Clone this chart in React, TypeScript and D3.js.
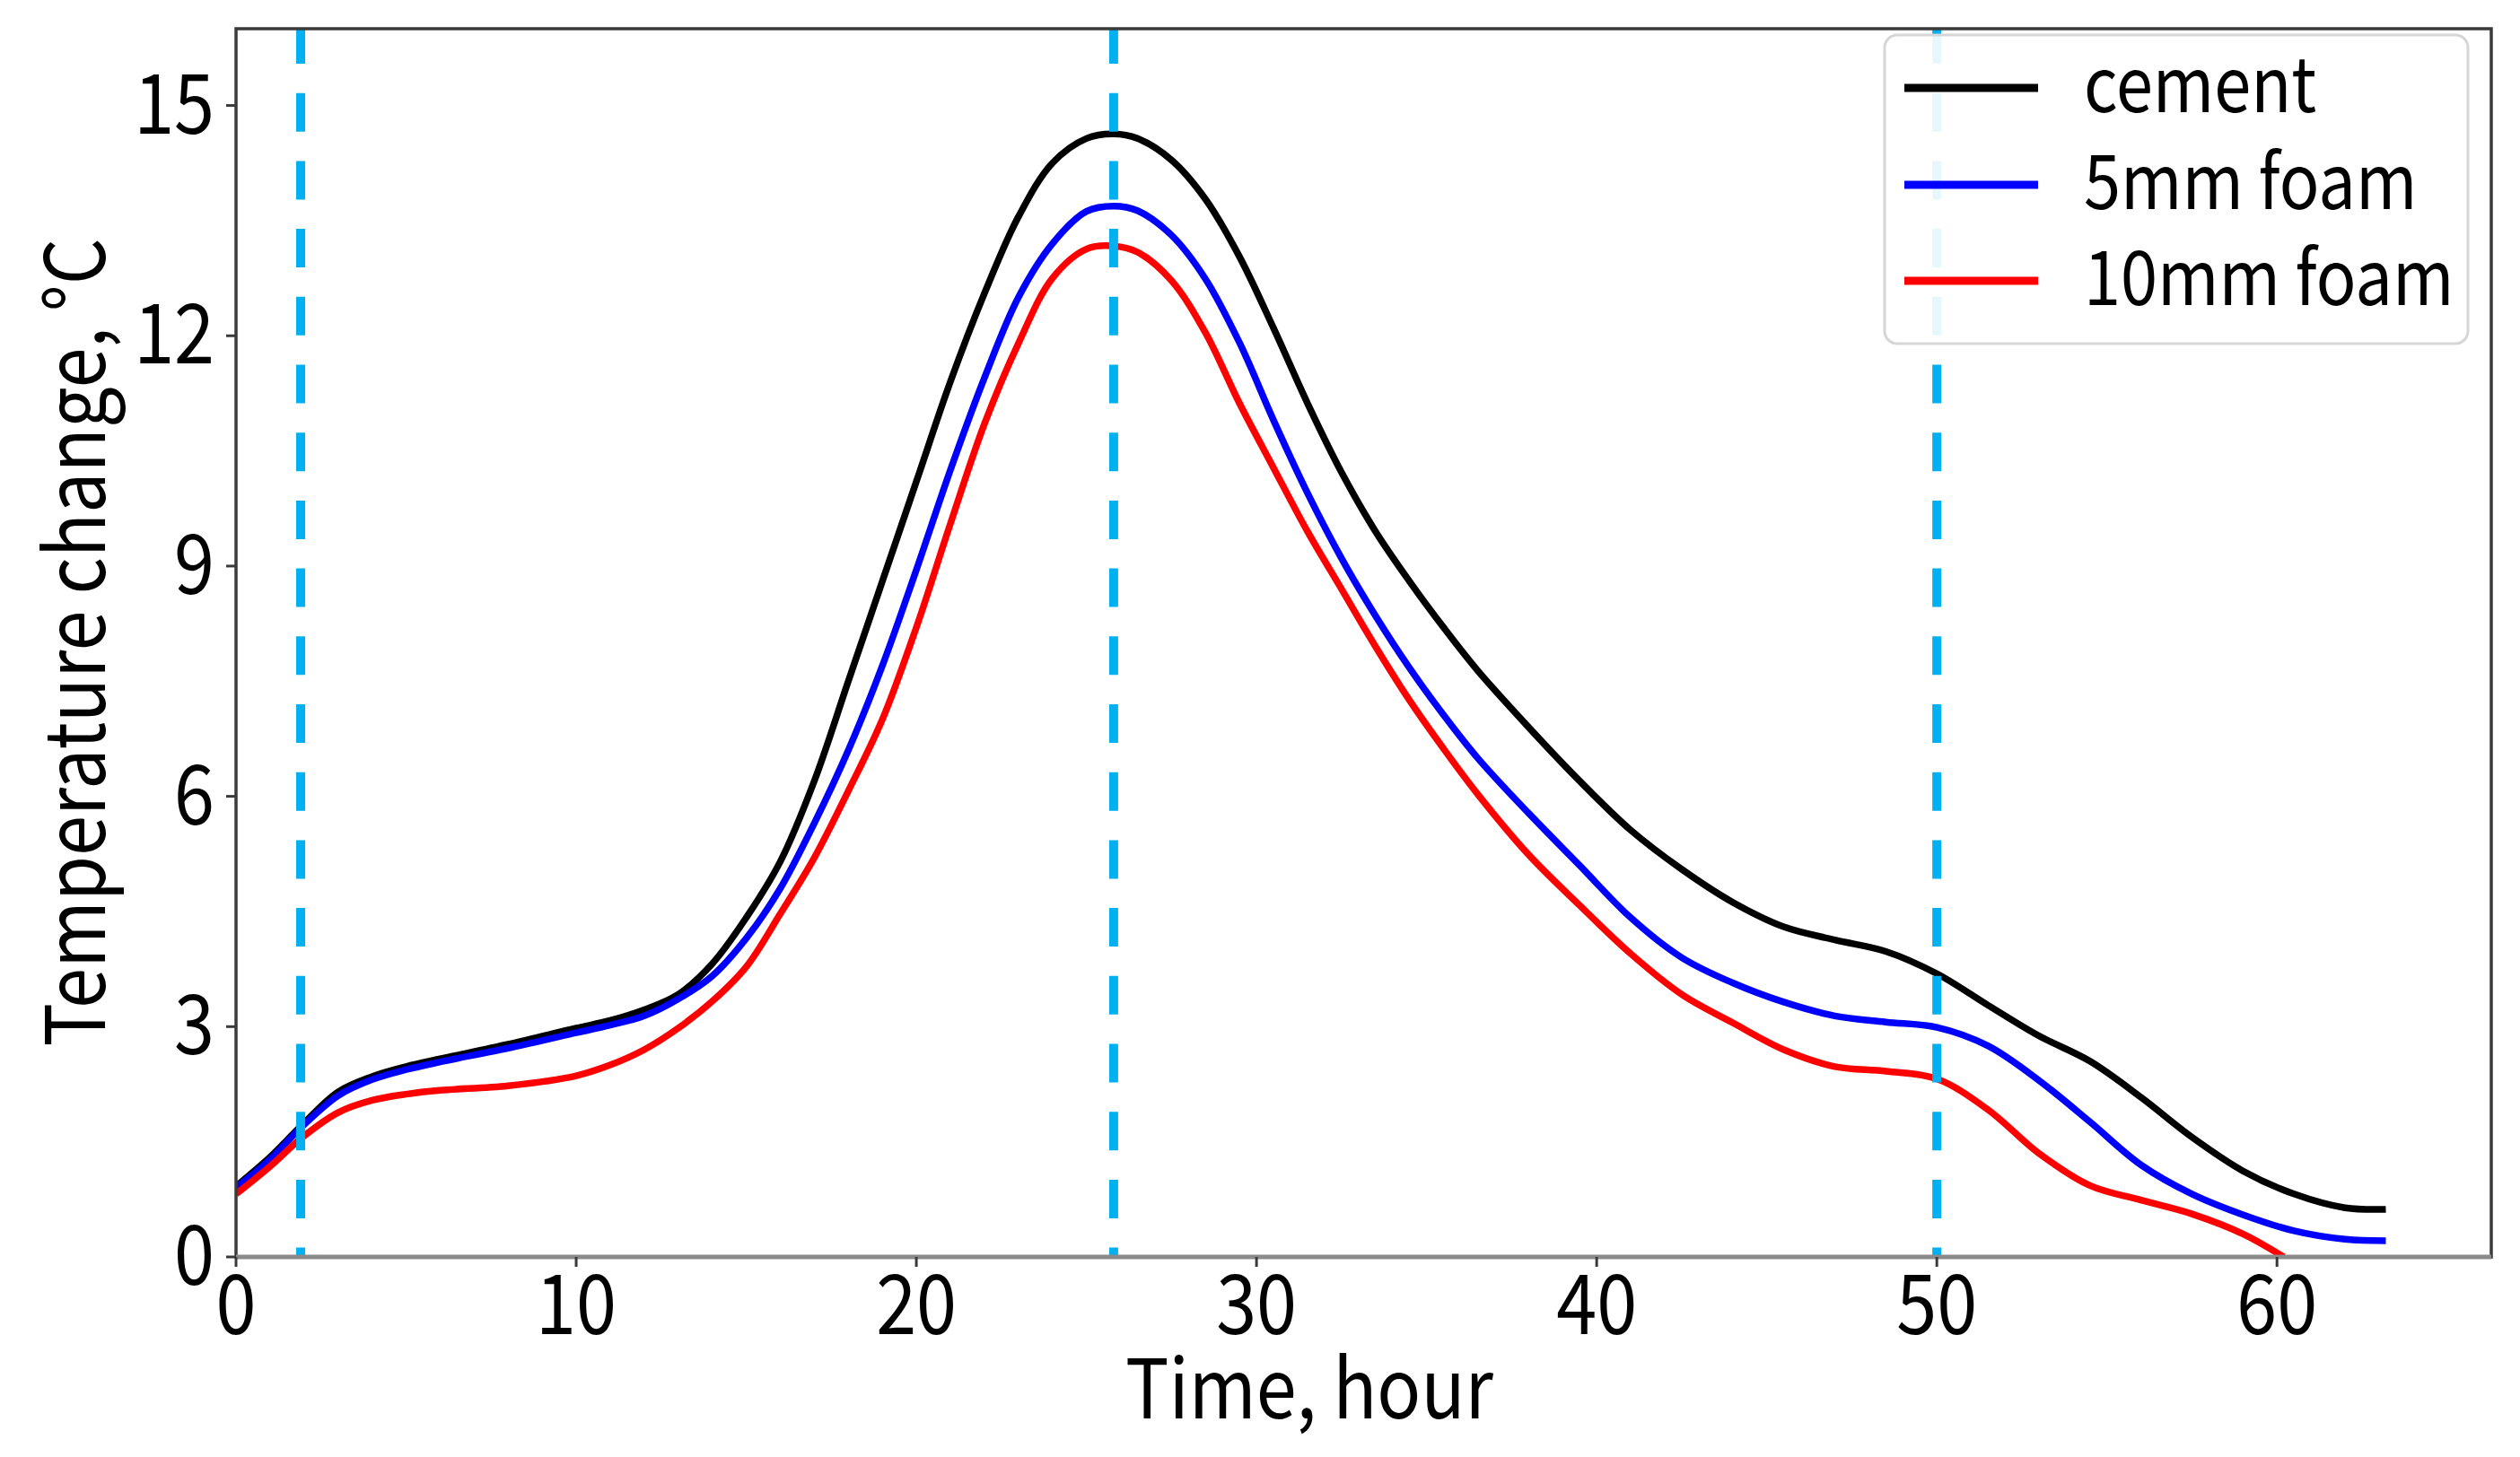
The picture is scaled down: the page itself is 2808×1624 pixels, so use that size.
import React from "react";
import * as d3 from "d3";

// Time in hours
const hours = [0, 1, 1.9, 3, 4, 5, 6, 8, 10, 11, 12, 13, 14, 15, 16, 17, 18, 19, 20, 21, 22, 23, 24, 25, 25.8, 26.5, 27.5, 28.5, 29.5, 30.5, 31.5, 32.5, 33.5, 34.5, 35.5, 36.5, 38, 39.5, 41, 42.5, 44, 45.5, 47, 48.5, 50, 51.5, 53, 54.5, 56, 57.5, 59, 60.5, 62, 63.2];

const cement = [0.92, 1.3, 1.7, 2.15, 2.35, 2.48, 2.58, 2.77, 2.98, 3.08, 3.22, 3.42, 3.82, 4.42, 5.15, 6.2, 7.5, 8.8, 10.1, 11.4, 12.55, 13.55, 14.25, 14.57, 14.63, 14.57, 14.29, 13.78, 13.03, 12.1, 11.12, 10.22, 9.45, 8.8, 8.2, 7.64, 6.9, 6.2, 5.56, 5.05, 4.62, 4.3, 4.13, 3.98, 3.69, 3.28, 2.88, 2.55, 2.08, 1.56, 1.12, 0.82, 0.64, 0.62];

const foam5 = [0.9, 1.27, 1.68, 2.1, 2.31, 2.44, 2.54, 2.72, 2.92, 3.02, 3.14, 3.36, 3.66, 4.15, 4.8, 5.65, 6.6, 7.7, 8.95, 10.25, 11.45, 12.5, 13.2, 13.62, 13.69, 13.63, 13.31, 12.74, 11.91, 10.9, 9.95, 9.1, 8.35, 7.67, 7.06, 6.5, 5.78, 5.1, 4.42, 3.9, 3.57, 3.32, 3.14, 3.06, 2.99, 2.75, 2.3, 1.76, 1.2, 0.82, 0.55, 0.34, 0.23, 0.21];

// the 10mm curve stops where it reaches 0
const hoursFoam10 = [0, 1, 1.9, 3, 4, 5, 6, 8, 10, 11, 12, 13, 14, 15, 16, 17, 18, 19, 20, 21, 22, 23, 24, 25, 25.8, 26.5, 27.5, 28.5, 29.5, 30.5, 31.5, 32.5, 33.5, 34.5, 35.5, 36.5, 38, 39.5, 41, 42.5, 44, 45.5, 47, 48.5, 50, 51.5, 53, 54.5, 56, 57.5, 59, 60.2];
const foam10 = [0.82, 1.18, 1.54, 1.88, 2.04, 2.12, 2.17, 2.23, 2.36, 2.5, 2.7, 2.98, 3.33, 3.78, 4.47, 5.2, 6.07, 7.0, 8.2, 9.55, 10.85, 11.9, 12.75, 13.13, 13.17, 13.09, 12.72, 12.04, 11.12, 10.28, 9.45, 8.7, 7.95, 7.25, 6.62, 6.03, 5.24, 4.58, 3.95, 3.42, 3.05, 2.7, 2.48, 2.42, 2.32, 1.92, 1.35, 0.93, 0.74, 0.56, 0.3, 0];

const seriesNames = ["cement", "5mm foam", "10mm foam"];
const seriesColors = ["#000000", "#0000ff", "#ff0000"];

// vertical dashed markers (hours)
const markers = [1.9, 25.8, 50];

const xTicks = [0, 10, 20, 30, 40, 50, 60];
const yTicks = [0, 3, 6, 9, 12, 15];

const W = 2808;
const H = 1624;
const FONT = "'Noto Sans CJK SC', 'Noto Sans', sans-serif";
const SQUEEZE = 0.88; // reference font is a bit narrower

export default function App() {
  const x = d3.scaleLinear().domain([0, 66.3]).range([263, 2776]);
  const y = d3.scaleLinear().domain([0, 16]).range([1401, 32]);

  const line = d3
    .line<[number, number]>()
    .x((d) => x(d[0]))
    .y((d) => y(d[1]))
    .curve(d3.curveCatmullRom.alpha(0.5));

  const series: [number, number][][] = [
    hours.map((h, i) => [h, cement[i]]),
    hours.map((h, i) => [h, foam5[i]]),
    hoursFoam10.map((h, i) => [h, foam10[i]]),
  ];

  const [x0, x1] = x.range();
  const [yb, yt] = y.range();

  // legend box
  const lg = { x: 2100, y: 39, w: 650, h: 344 };
  const rowY = [98, 206, 313];

  return (
    <svg
      width={W}
      height={H}
      style={{ position: "absolute", left: 0, top: 0, background: "#fff" }}
      fontFamily={FONT}
    >
      <defs>
        <clipPath id="plot">
          <rect x={x0} y={yt} width={x1 - x0} height={yb - yt} />
        </clipPath>
      </defs>

      <g clipPath="url(#plot)">
        {series.map((s, i) => (
          <path
            key={seriesNames[i]}
            d={line(s) as string}
            fill="none"
            stroke={seriesColors[i]}
            strokeWidth={7.5}
            strokeLinejoin="round"
          />
        ))}
        {markers.map((m) => (
          <line
            key={m}
            x1={x(m)}
            x2={x(m)}
            y1={y(16)}
            y2={y(0)}
            stroke="#00b0f0"
            strokeWidth={10}
            strokeDasharray="43 32.7"
            strokeDashoffset={4}
          />
        ))}
      </g>

      {/* spines */}
      <rect x={x0} y={yt} width={x1 - x0} height={yb - yt} fill="none" stroke="#3a3a3a" strokeWidth={3.5} />
      <line x1={x0} x2={x1} y1={yb} y2={yb} stroke="#8a8a8a" strokeWidth={5} />

      {/* x axis */}
      {xTicks.map((t) => (
        <g key={t} transform={`translate(${x(t)},${yb})`}>
          <line y1={0} y2={11} stroke="#3a3a3a" strokeWidth={3} />
          <text transform={`translate(0,86) scale(${SQUEEZE},1)`} textAnchor="middle" fontSize={92} fill="#000">
            {t}
          </text>
        </g>
      ))}
      <text
        transform={`translate(1459,1581) scale(${SQUEEZE},1)`}
        textAnchor="middle"
        fontSize={92}
        fill="#000"
      >
        Time, hour
      </text>

      {/* y axis */}
      {yTicks.map((t) => (
        <g key={t} transform={`translate(${x0},${y(t)})`}>
          <line x1={0} x2={-11} stroke="#3a3a3a" strokeWidth={3} />
          <text transform={`translate(-24,31) scale(${SQUEEZE},1)`} textAnchor="end" fontSize={92} fill="#000">
            {t}
          </text>
        </g>
      ))}
      <text
        transform={`translate(117,716) rotate(-90) scale(${SQUEEZE},1)`}
        textAnchor="middle"
        fontSize={92}
        fill="#000"
      >
        Temperature change, °C
      </text>

      {/* legend */}
      <rect
        x={lg.x}
        y={lg.y}
        width={lg.w}
        height={lg.h}
        rx={14}
        fill="#ffffff"
        fillOpacity={0.9}
        stroke="#d6d6d6"
        strokeWidth={3}
      />
      {seriesNames.map((n, i) => (
        <g key={n}>
          <line x1={2122} x2={2271} y1={rowY[i]} y2={rowY[i]} stroke={seriesColors[i]} strokeWidth={9} />
          <text transform={`translate(2322,${rowY[i] + 27}) scale(${SQUEEZE},1)`} fontSize={84} fill="#000">
            {n}
          </text>
        </g>
      ))}
    </svg>
  );
}
